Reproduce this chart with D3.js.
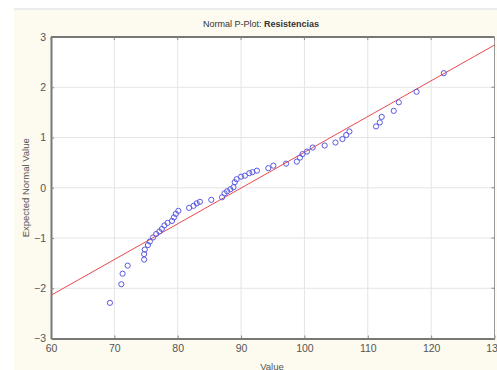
<!DOCTYPE html>
<html>
<head>
<meta charset="utf-8">
<script src="https://cdn.jsdelivr.net/npm/d3@7"></script>
<style>
  body { margin: 0; background: #fff; }
  svg { display: block; font-family: "Liberation Sans", Arial, sans-serif; }
</style>
</head>
<body>
<svg id="Chart" width="497" height="370"></svg>
<script>
// observed values (Resistencias) and their expected normal values
var values = [69.3, 71.1, 71.3, 72.1, 74.7, 74.7, 74.8, 75.3, 75.6, 76.1,
              76.6, 77.1, 77.5, 77.9, 78.4, 79.1, 79.4, 79.7, 80.1, 81.8,
              82.5, 83.0, 83.5, 85.3, 87.0, 87.4, 87.8, 88.3, 88.8, 89.0,
              89.3, 90.0, 90.6, 91.3, 91.8, 92.5, 94.3, 95.1, 97.1, 98.8,
              99.3, 99.7, 100.4, 101.3, 103.2, 104.9, 106.0, 106.6, 107.1, 111.3,
              111.9, 112.2, 114.1, 114.9, 117.7, 122.0];
var expected = [-2.29, -1.92, -1.71, -1.55, -1.43, -1.32, -1.23, -1.14, -1.07, -0.99,
                -0.92, -0.87, -0.82, -0.75, -0.70, -0.66, -0.59, -0.52, -0.46, -0.40,
                -0.36, -0.31, -0.28, -0.24, -0.19, -0.11, -0.07, -0.03, 0.01, 0.11,
                0.17, 0.22, 0.24, 0.29, 0.31, 0.34, 0.39, 0.44, 0.48, 0.52,
                0.60, 0.67, 0.72, 0.80, 0.84, 0.90, 0.97, 1.05, 1.12, 1.22,
                1.30, 1.41, 1.53, 1.70, 1.91, 2.28];
var xTicks = [60, 70, 80, 90, 100, 110, 120, 130];
var yTicks = [-3, -2, -1, 0, 1, 2, 3];
// reference line: value at the two ends of the axis
var lineX = [60, 130];
var lineY = [-2.14, 2.84];

var svg = d3.select("#Chart");
var pLeft = 51, pRight = 494.5, pTop = 37, pBottom = 338.5;

var x = d3.scaleLinear().domain([60, 130]).range([pLeft, pRight]);
var y = d3.scaleLinear().domain([-3, 3]).range([pBottom, pTop]);

// panel backgrounds
svg.append("rect").attr("x", 0).attr("y", 0).attr("width", 497).attr("height", 370).attr("fill", "#ffffff");
svg.append("rect").attr("x", 14).attr("y", 8).attr("width", 483).attr("height", 2).attr("fill", "#ececec");
svg.append("rect").attr("x", 14).attr("y", 10).attr("width", 483).attr("height", 360).attr("fill", "#fdfaef");
svg.append("rect").attr("x", pLeft).attr("y", pTop).attr("width", pRight - pLeft).attr("height", pBottom - pTop).attr("fill", "#ffffff");

// grid
svg.append("g").selectAll("line.gx")
    .data(xTicks.slice(1, -1))
    .enter().append("line")
    .attr("x1", function(d){ return x(d); })
    .attr("x2", function(d){ return x(d); })
    .attr("y1", pTop).attr("y2", pBottom)
    .attr("stroke", "#e4e4e4").attr("stroke-width", 1);
svg.append("g").selectAll("line.gy")
    .data(yTicks.slice(1, -1))
    .enter().append("line")
    .attr("x1", pLeft).attr("x2", pRight)
    .attr("y1", function(d){ return y(d); })
    .attr("y2", function(d){ return y(d); })
    .attr("stroke", "#e4e4e4").attr("stroke-width", 1);

// axes
var xAxis = d3.axisBottom(x).tickValues(xTicks).tickSize(3).tickSizeOuter(0).tickFormat(d3.format("d"));
var yAxis = d3.axisLeft(y).tickValues(yTicks).tickSize(3).tickSizeOuter(0).tickFormat(d3.format("d"));

var gx = svg.append("g").attr("transform", "translate(0," + pBottom + ")").call(xAxis);
var gy = svg.append("g").attr("transform", "translate(" + pLeft + ",0)").call(yAxis);

[gx, gy].forEach(function(g) {
    g.select(".domain").attr("stroke", "#777").attr("stroke-width", 2);
    g.selectAll(".tick line").attr("stroke", "#888");
    g.selectAll(".tick text").attr("fill", "#555").attr("font-size", "10.5px");
});
gx.selectAll(".tick line").attr("y2", -3);
gy.selectAll(".tick line").attr("x2", 3);
gx.selectAll(".tick text").attr("dy", "0.71em").attr("y", 6);
gy.selectAll(".tick text").attr("x", -5);

// top and right frame
svg.append("line").attr("x1", pLeft).attr("x2", pRight).attr("y1", pTop).attr("y2", pTop)
    .attr("stroke", "#777").attr("stroke-width", 2);
svg.append("line").attr("x1", pRight).attr("x2", pRight).attr("y1", pTop).attr("y2", pBottom)
    .attr("stroke", "#999").attr("stroke-width", 1);
svg.append("g").selectAll("line.ty")
    .data(yTicks)
    .enter().append("line")
    .attr("x1", pRight - 3).attr("x2", pRight)
    .attr("y1", function(d){ return y(d); })
    .attr("y2", function(d){ return y(d); })
    .attr("stroke", "#888");
svg.append("g").selectAll("line.tx")
    .data(xTicks)
    .enter().append("line")
    .attr("x1", function(d){ return x(d); })
    .attr("x2", function(d){ return x(d); })
    .attr("y1", pTop).attr("y2", pTop + 3)
    .attr("stroke", "#888");

// reference line
svg.append("line")
    .attr("x1", x(lineX[0])).attr("y1", y(lineY[0]))
    .attr("x2", x(lineX[1])).attr("y2", y(lineY[1]))
    .attr("stroke", "#e8494f").attr("stroke-width", 1);

// points
svg.append("g").selectAll("circle.pt")
    .data(values)
    .enter().append("circle")
    .attr("cx", function(d){ return x(d); })
    .attr("cy", function(d, i){ return y(expected[i]); })
    .attr("r", 2.6)
    .attr("fill", "none")
    .attr("stroke", "#5a5ae0")
    .attr("stroke-width", 1);

// title
var title = svg.append("text")
    .attr("x", 261).attr("y", 27)
    .attr("text-anchor", "middle")
    .attr("font-size", "9px")
    .attr("fill", "#333");
title.append("tspan").text("Normal P-Plot: ");
title.append("tspan").attr("font-weight", "bold").text("Resistencias");

// axis titles
svg.append("text")
    .attr("x", 272).attr("y", 370)
    .attr("text-anchor", "middle")
    .attr("font-size", "9.5px").attr("fill", "#555")
    .text("Value");
svg.append("text")
    .attr("transform", "translate(29," + y(0) + ") rotate(-90)")
    .attr("text-anchor", "middle")
    .attr("font-size", "9.5px").attr("fill", "#555")
    .text("Expected Normal Value");
</script>
</body>
</html>
